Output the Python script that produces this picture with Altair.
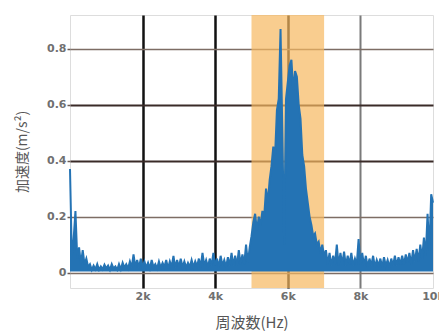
import altair as alt
import pandas as pd

# Frequency grid (Hz) – 50 Hz bins from 0 to 10 kHz
freq = list(range(0, 10001, 50))

# Acceleration amplitude (m/s^2)
accel = [
    0.37, 0.06, 0.12, 0.22, 0.05, 0.09, 0.03, 0.08, 0.03, 0.05, 0.02,
    0.03, 0.01, 0.025, 0.012, 0.03, 0.01, 0.022, 0.012, 0.028, 0.015,
    0.025, 0.01, 0.03, 0.015, 0.022, 0.01, 0.03, 0.012, 0.035, 0.018,
    0.03, 0.015, 0.04, 0.018, 0.065, 0.02, 0.045, 0.018, 0.05, 0.02,
    0.04, 0.018, 0.035, 0.015, 0.045, 0.02, 0.03, 0.015, 0.04, 0.018,
    0.035, 0.02, 0.045, 0.015, 0.04, 0.02, 0.06, 0.018, 0.045, 0.02,
    0.05, 0.02, 0.04, 0.018, 0.035, 0.02, 0.045, 0.02, 0.04, 0.022,
    0.05, 0.02, 0.07, 0.025, 0.045, 0.02, 0.05, 0.025, 0.07, 0.025,
    0.05, 0.02, 0.06, 0.025, 0.045, 0.02, 0.055, 0.025, 0.07, 0.025,
    0.06, 0.025, 0.08, 0.03, 0.065, 0.03, 0.1, 0.035, 0.09, 0.13,
    0.18, 0.21, 0.15, 0.2, 0.17, 0.22, 0.2, 0.3, 0.25, 0.33,
    0.38, 0.45, 0.42, 0.58, 0.62, 0.87, 0.5, 0.1, 0.62, 0.68,
    0.74, 0.76, 0.65, 0.72, 0.7, 0.6, 0.55, 0.42, 0.38, 0.3,
    0.25, 0.2, 0.17, 0.13, 0.14, 0.1, 0.11, 0.07, 0.1, 0.06,
    0.08, 0.03, 0.07, 0.025, 0.06, 0.03, 0.1, 0.025, 0.07, 0.03,
    0.075, 0.025, 0.06, 0.03, 0.07, 0.025, 0.05, 0.03, 0.12, 0.03,
    0.07, 0.025, 0.06, 0.02, 0.05, 0.025, 0.06, 0.02, 0.045, 0.025,
    0.05, 0.02, 0.055, 0.025, 0.045, 0.02, 0.05, 0.025, 0.06, 0.025,
    0.055, 0.03, 0.06, 0.03, 0.065, 0.035, 0.07, 0.03, 0.08, 0.04,
    0.085, 0.04, 0.1, 0.05, 0.125, 0.06, 0.21, 0.08, 0.28, 0.25,
]

# Highlighted frequency band (Hz)
band_start = [5000]
band_end = [7000]

x_ticks = [2000, 4000, 6000, 8000, 10000]
y_ticks = [0, 0.2, 0.4, 0.6, 0.8]

df = pd.DataFrame({"freq": freq, "accel": accel})
band_df = pd.DataFrame({"start": band_start, "end": band_end})

W, H = 363, 273
LABEL_FONT = "DejaVu Sans"
CJK_FONT = "Noto Sans CJK JP"
BLUE = "#2473b4"

x_scale = alt.Scale(domain=[0, 10000], nice=False, zero=False)
y_scale = alt.Scale(domain=[-0.055, 0.92], nice=False, zero=False)

x_axis = alt.Axis(
    values=x_ticks,
    labelExpr="datum.value / 1000 + 'k'",
    domain=False,
    ticks=False,
    grid=True,
    gridColor={"condition": {"test": "datum.value >= 8000", "value": "#7a7a7a"}, "value": "#111111"},
    gridWidth={"condition": {"test": "datum.value >= 8000", "value": 2}, "value": 2.5},
    gridOpacity={"condition": {"test": "datum.value >= 10000", "value": 0}, "value": 1},
    labelFont=LABEL_FONT,
    labelFontSize=11,
    labelFontWeight="bold",
    labelColor="#707070",
    labelPadding=2,
    labelFlush=False,
    title="周波数(Hz)",
    titleFont=CJK_FONT,
    titleFontSize=15,
    titleFontWeight="normal",
    titleColor="#555555",
    titleY=34,
    titleBaseline="middle",
)

y_axis = alt.Axis(
    values=y_ticks,
    format="~g",
    domain=False,
    ticks=True,
    tickSize=3,
    tickColor="#6b5a52",
    tickWidth=1.5,
    grid=True,
    gridColor={"condition": {"test": "datum.value == 0.4 || datum.value == 0.6", "value": "#3a2b28"}, "value": "#7d6d64"},
    gridWidth={"condition": {"test": "datum.value == 0.4 || datum.value == 0.6", "value": 2}, "value": 1.5},
    labelFont=LABEL_FONT,
    labelFontSize=11,
    labelFontWeight="bold",
    labelColor="#707070",
    labelPadding=1,
    title="加速度(m/s²)",
    titleFont=CJK_FONT,
    titleFontSize=14,
    titleFontWeight="normal",
    titleColor="#555555",
    titleAngle=270,
    titleX=-48,
    titleY=H / 2,
    titleAlign="center",
    titleBaseline="middle",
)

band = alt.Chart(band_df).mark_rect(color="#f6b85f", opacity=0.7).encode(
    x=alt.X("start:Q", scale=x_scale, axis=x_axis),
    x2="end:Q",
    y=alt.value(0),
    y2=alt.value(H),
)

base = alt.Chart(df)

fill = base.mark_area(color=BLUE, opacity=1, interpolate="linear").encode(
    x=alt.X("freq:Q", scale=x_scale, axis=x_axis),
    y=alt.Y("accel:Q", scale=y_scale, axis=y_axis),
    y2=alt.datum(0.004),
)

line = base.mark_line(color=BLUE, strokeWidth=2).encode(
    x=alt.X("freq:Q", scale=x_scale, axis=x_axis),
    y=alt.Y("accel:Q", scale=y_scale, axis=y_axis),
)

chart = (
    alt.layer(band, fill, line)
    .properties(
        width=W,
        height=H,
        autosize=alt.AutoSizeParams(type="none"),
        padding={"left": 62, "top": 7, "right": 6, "bottom": 43},
    )
    .configure_view(stroke=None)
    .configure(background="white")
)

chart.save("out.html", embed_options={"renderer": "svg", "actions": False})
